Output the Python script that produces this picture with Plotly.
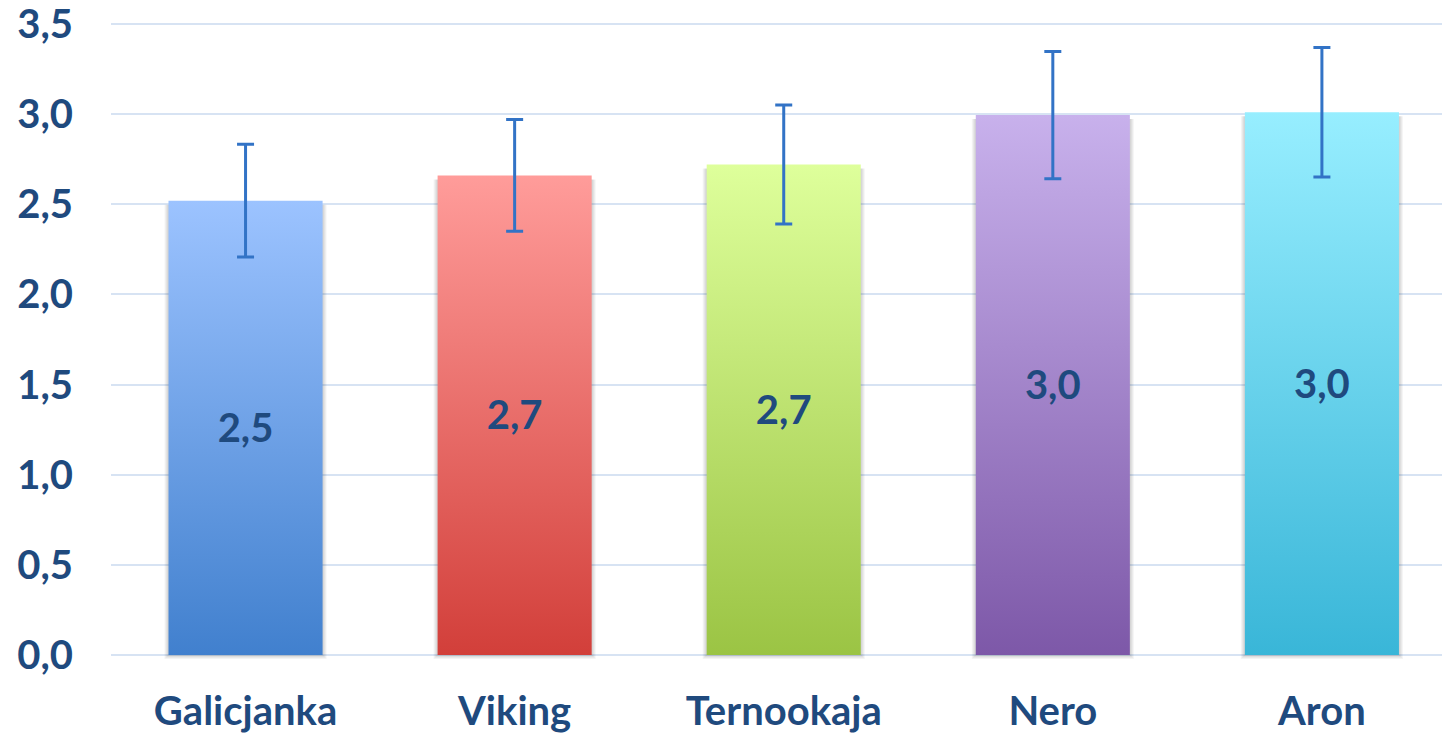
import plotly.graph_objects as go

categories = ["Galicjanka", "Viking", "Ternookaja", "Nero", "Aron"]
values = [2.52, 2.66, 2.72, 2.995, 3.01]
errors = [0.313, 0.31, 0.33, 0.353, 0.359]
top_colors = ["#9CC3FF", "#FF9C9A", "#DEFF9B", "#C8B1EC", "#97EEFF"]
bottom_colors = ["#4180CE", "#D23F3A", "#9BC444", "#7D58A8", "#39B6D8"]
y_ticks = [0, 0.5, 1.0, 1.5, 2.0, 2.5, 3.0, 3.5]

TEXT = "#1F4A7E"
FONT = "Lato"
FS = 40
half = 0.2863
px_x = 1 / 269.0   # one pixel in x units
px_y = 1 / 180.3   # one pixel in y units
xs = list(range(len(categories)))

fig = go.Figure()

# soft shadows behind bars
for d in (4, 3, 2, 1):
    for i, v in enumerate(values):
        x0, x1 = i - half - d * px_x, i + half + d * px_x
        y0, y1 = -d * px_y, v - 4 * px_y
        fig.add_trace(go.Scatter(
            x=[x0, x1, x1, x0, x0], y=[y0, y0, y1, y1, y0],
            mode="lines", line=dict(width=0, color="rgba(0,0,0,0)"),
            fill="toself", fillcolor="rgba(0,0,0,0.045)",
            hoverinfo="skip", showlegend=False,
        ))

# gradient bars (scatter polygons with vertical fill gradient)
for i, (v, ct, cb) in enumerate(zip(values, top_colors, bottom_colors)):
    fig.add_trace(go.Scatter(
        x=[i - half, i + half, i + half, i - half, i - half],
        y=[0, 0, v, v, 0],
        mode="lines", line=dict(width=0, color=cb),
        fill="toself",
        fillgradient=dict(type="vertical", colorscale=[[0, cb], [1, ct]]),
        hoverinfo="skip", showlegend=False,
    ))

# error bars
fig.add_trace(go.Scatter(
    x=xs, y=values, mode="markers",
    marker=dict(size=1, color="rgba(0,0,0,0)"),
    error_y=dict(type="data", array=errors, visible=True, color="#3273C6", thickness=3, width=8.5),
    showlegend=False,
))

# value labels in the middle of each bar
fig.add_trace(go.Scatter(
    x=xs, y=[v / 2 - 4 * px_y for v in values], mode="text",
    text=[f"{v:.1f}".replace(".", ",") for v in values],
    textposition="middle center",
    textfont=dict(family=FONT, size=FS, color=TEXT, weight="bold"),
    showlegend=False, hoverinfo="skip",
))

fig.update_layout(
    width=1442, height=726,
    margin=dict(l=103, r=0, t=14, b=74, autoexpand=False),
    paper_bgcolor="white", plot_bgcolor="white",
    separators=",.",
    font=dict(family=FONT, color=TEXT, size=FS, weight="bold"),
    xaxis=dict(range=[-0.5, 4.476], tickvals=xs, ticktext=categories,
               showgrid=False, zeroline=False, showline=False, ticks="",
               ticklabeloverflow="allow", automargin=False,
               tickfont=dict(family=FONT, size=FS, color=TEXT, weight="bold"), ticklabelstandoff=24),
    yaxis=dict(range=[-0.0277, 3.511], tickvals=y_ticks, tickformat=".1f",
               showgrid=True, gridcolor="#D7E3F3", gridwidth=2, zeroline=False, showline=False, ticks="",
               ticklabeloverflow="allow", automargin=False,
               tickfont=dict(family=FONT, size=FS, color=TEXT, weight="bold"), ticklabelstandoff=37),
)

fig.write_html("out.html")
